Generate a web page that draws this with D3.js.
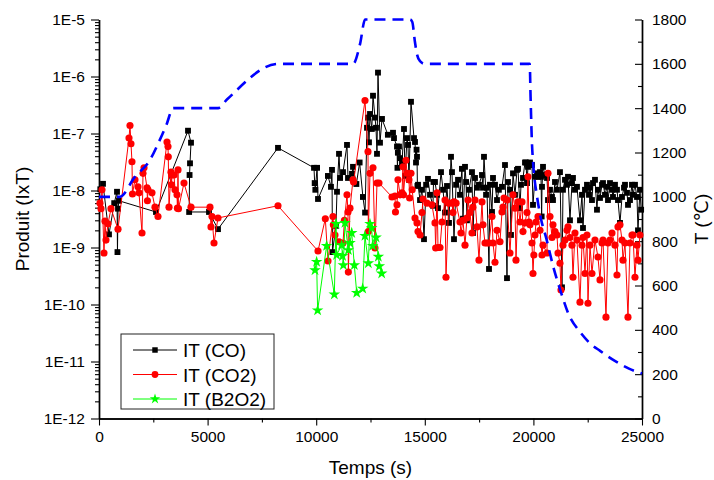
<!DOCTYPE html>
<html><head><meta charset="utf-8">
<script src="https://cdn.jsdelivr.net/npm/d3@7"></script>
<style>
body{margin:0;background:#fff}
svg{display:block}
text{font-family:"Liberation Sans",Arial,"DejaVu Sans",sans-serif;fill:#000}
</style>
</head><body>
<svg id="chart" width="714" height="480"></svg>
<script>
// ---------- DATA ----------
const coData = [
[60,1.05e-8],[184,1.31e-8],[460,1.7e-9],[700,6.0e-9],[829,9.5e-9],[850,8.3e-10],[875,4.8e-9],[921,6.6e-9],[2624,4.2e-9],[4098,1.12e-7],[4236,6.9e-8],[4190,3.0e-8],[4170,1.87e-8],[4150,4.2e-9],[5064,4.2e-9],[5479,2.1e-9],[8241,5.6e-8],
[9899,2.5e-8],[9930,1.35e-8],[9960,1.03e-8],[10040,2.5e-8],[10083,7.1e-9],[10540,1.8e-8],[10680,1.16e-8],[10727,2.3e-8],[10750,8.3e-10],[10910,2.4e-9],[10957,9.5e-9],[11050,4.4e-8],[11100,1.66e-8],[11234,2.1e-8],[11418,6.3e-8],[11464,1.66e-8],[11648,1.96e-8],[11694,2.6e-8],[11850,1.3e-8],[12000,3.1e-8],[12150,7.7e-9],[12250,4.1e-9],[12339,1.26e-7],[12385,1.9e-7],[12430,7.0e-8],[12477,2.2e-7],[12560,1.2e-7],[12615,4.6e-7],[12707,1.9e-7],[12753,1.26e-7],[12799,4.4e-8],[12845,1.17e-6],[12937,6.9e-8],[13029,1.8e-7],
[13300,9.5e-8],[13536,1.03e-7],[13582,8.3e-8],[13720,5.9e-8],[13740,2.5e-8],[13760,4.6e-8],[13812,5.9e-8],[13860,3.7e-8],[13950,3.1e-8],[14042,1.2e-7],[14090,1.8e-8],[14180,8.3e-8],[14226,6.3e-8],[14272,1.54e-8],[14364,3.6e-7],[14503,8.3e-8],[14549,7.1e-8],[14595,3.1e-8],[14620,5.2e-8],[14641,3.9e-8],[14660,1.2e-8],[14687,1.26e-8],[14780,6.8e-9],[14871,1.03e-8],[14963,1.4e-9],[15060,1.26e-8],[15147,1.6e-8],
[15240,8.4e-9],[15377,5.4e-9],[15400,1.41e-8],[15469,1.41e-8],[15562,8.4e-9],[15608,4.9e-9],[15746,2.1e-8],[15840,1.03e-8],[15930,4.1e-9],[16022,1.2e-8],[16114,2.7e-9],[16206,3.9e-8],[16252,2.1e-8],[16344,1.4e-9],[16440,1.26e-8],[16530,1.54e-8],[16620,8.4e-9],[16710,2.4e-8],[16758,3.2e-9],[16851,2.6e-8],[16900,1.41e-8],[16940,3.0e-9],[17035,1.03e-8],[17173,2.1e-8],[17219,1.8e-9],[17311,1.66e-8],[17403,1.12e-8],[17495,1.26e-8],[17633,1.87e-8],[17679,1.12e-8],[17725,3.9e-8],[17820,8.4e-9],[17860,1.12e-8],[17956,4.2e-10],[18000,1.26e-8],[18094,4.2e-9],[18140,1.66e-8],[18232,1.26e-8],[18324,6.8e-9],[18410,1.03e-8],[18554,1.16e-8],[18692,2.8e-8],[18784,2.9e-10],[18830,1.41e-8],[18922,1.03e-8],[18968,1.66e-9],[19061,2.0e-8],[19153,8.4e-9],[19245,2.3e-8],[19291,2.4e-8],[19380,4.9e-9],[19430,1.26e-8],[19521,1.66e-8],[19613,3.1e-8],[19659,3.1e-8],[19705,1.35e-8],[19751,2.6e-8],[19797,2.8e-8],[19843,3.1e-8],
[19935,2.8e-8],[19981,5.6e-9],[20073,1.74e-8],[20166,2.0e-8],[20212,1.74e-8],[20304,2.1e-8],[20350,1.74e-8],[20380,3.5e-9],[20396,1.16e-8],[20442,2.6e-8],[20534,1.87e-8],[20626,1.66e-8],[20672,6.8e-9],[20764,1.03e-8],[20856,7.7e-9],[20902,6.8e-9],[20994,1.41e-8],[21086,1.03e-8],[21224,2.1e-8],[21316,2.0e-10],[21362,1.03e-8],[21454,1.54e-8],[21546,1.26e-8],[21592,1.74e-8],[21684,3.0e-9],[21776,1.35e-8],[21822,1.66e-8],[21914,1.03e-8],[22006,1.16e-8],[22145,3.0e-9],[22237,8.4e-9],[22283,2.2e-9],[22375,1.03e-8],[22467,1.26e-8],[22559,8.4e-9],[22605,1.12e-8],[22697,6.8e-9],[22743,1.35e-8],[22835,1.54e-8],[22927,4.6e-9],[22973,1.03e-8],[23066,7.4e-9],[23158,1.26e-8],[23204,1.35e-8],[23296,8.4e-9],[23388,1.16e-8],[23434,6.8e-9],[23526,1.35e-8],[23618,1.03e-8],[23664,7.7e-9],[23756,1.26e-8],[23848,1.03e-8],[23894,6.8e-9],[23987,2.7e-9],[24079,7.7e-9],[24171,1.12e-8],[24217,1.26e-8],[24309,9.1e-9],[24355,5.6e-9],[24447,6.8e-9],[24539,1.26e-8],[24585,8.4e-9],[24677,1.26e-8],[24769,7.7e-9],[24815,2.0e-9],[24907,1.03e-8],[24960,4.6e-9]
];

const co2Data = [
[46,6.0e-9],[92,4.8e-9],[138,1.03e-8],[230,8.0e-10],[276,2.9e-9],[322,1.35e-9],[414,2.6e-9],[552,4.8e-9],[875,2.1e-9],[1381,8.3e-8],[1427,1.38e-7],[1473,6.6e-8],[1519,3.2e-8],[1540,8.7e-9],[1657,1.54e-8],[1796,1.16e-8],[1842,9.1e-9],[1980,1.8e-9],[2026,2.0e-8],[2072,2.5e-8],[2210,1.12e-8],[2230,6.6e-9],[2256,1.03e-8],[2440,9.1e-9],[2578,5.1e-9],[2716,3.5e-9],[3131,7.1e-8],[3177,5.9e-8],[3190,3.9e-8],[3223,5.1e-9],[3315,2.1e-8],[3340,1.26e-8],[3361,1.87e-8],[3453,1.87e-8],[3499,1.03e-8],[3591,8.4e-9],[3610,4.9e-9],[3637,2.3e-8],[3660,4.8e-9],[3913,1.35e-8],[4236,5.1e-9],[5110,5.1e-9],[5156,2.3e-9],[5203,3.5e-9],[5295,1.2e-9],[5479,3.3e-9],[8241,5.4e-9],
[10083,8.7e-10],[10420,3.2e-9],[10543,5.8e-10],[10773,3.5e-9],[10790,2.5e-9],[10865,1.66e-9],[11050,1.26e-9],[11234,1.2e-9],[11300,3.0e-9],[11418,8.4e-9],[11464,4.2e-9],[11480,3.7e-10],[11556,4.9e-9],[11694,1.54e-8],[11720,1.41e-8],[12247,3.8e-7],[12385,4.8e-8],[12400,1.9e-9],[12477,2.0e-8],[12615,2.5e-8],[12707,9.8e-10],[12799,1.35e-8],[12891,1.35e-8],
[13490,7.7e-9],[13628,8.0e-9],[13650,4.2e-9],[13720,5.6e-9],[13766,1.54e-8],[13860,8.4e-9],[13950,9.1e-9],[13996,2.6e-8],[14020,8.4e-9],[14134,3.4e-8],[14180,2.0e-8],[14272,1.54e-8],[14300,7.4e-9],[14364,2.0e-8],[14420,1.03e-8],[14549,3.3e-9],[14641,2.7e-9],[14687,1.9e-9],[14780,1.66e-9],[14871,4.1e-9],[14917,7.1e-9],[15100,6.0e-9],[15330,5.6e-9],
[15469,2.7e-9],[15500,9.8e-10],[15562,9.1e-9],[15608,1.0e-9],[15700,1.0e-9],[15792,2.8e-9],[15930,6.8e-9],[15976,3.0e-10],[16100,6.0e-9],[16252,6.0e-9],[16298,4.1e-9],[16344,6.3e-9],[16440,6.0e-9],[16620,2.8e-9],[16666,1.8e-9],[16758,3.0e-9],[16851,1.1e-9],[16940,3.3e-9],[16989,6.8e-9],[17080,4.1e-9],[17173,1.8e-9],[17219,5.1e-9],[17311,6.8e-9],[17403,2.3e-9],[17495,6.0e-10],[17633,6.3e-9],[17679,2.5e-9],[17771,1.2e-9],[17863,1.2e-9],[17956,1.2e-9],[18094,3.5e-9],[18140,1.2e-9],[18232,5.5e-10],[18324,2.0e-9],[18462,1.26e-9],[18554,4.2e-9],[18600,5.1e-9],[18646,7.4e-9],[18784,6.8e-9],[18922,8.0e-10],[19061,8.4e-9],[19153,4.9e-9],[19199,6.0e-10],[19291,6.3e-9],[19383,2.8e-9],[19475,6.3e-9],[19521,1.9e-9],[19613,2.7e-9],[19705,4.1e-9],[19751,1.74e-8],[19797,2.8e-9],[19843,2.5e-9],[19935,1.2e-9],[19981,3.5e-10],[20020,7.4e-10],
[20073,1.66e-9],[20120,2.8e-9],[20212,3.5e-9],[20304,2.0e-9],[20396,7.4e-10],[20442,1.1e-9],[20626,8.0e-10],[20672,2.0e-8],[20764,3.5e-9],[20856,1.5e-9],[20902,2.5e-9],[20994,1.9e-9],[21086,1.66e-9],[21132,8.0e-10],[21224,5.3e-10],[21270,1.8e-10],[21362,1.1e-9],[21454,1.35e-9],[21546,2.0e-9],[21592,2.3e-9],[21684,1.5e-9],[21776,1.1e-9],[21822,3.0e-10],[21914,1.8e-9],[22006,1.35e-9],[22145,1.1e-10],[22237,1.1e-9],[22283,1.5e-9],[22375,3.5e-10],[22467,1.66e-9],[22513,1.05e-10],[22605,1.1e-9],[22697,3.5e-10],[22835,1.35e-9],[22973,6.8e-10],[23066,2.7e-10],[23158,1.2e-9],[23204,1.35e-9],[23342,6.0e-11],[23434,1.2e-9],[23526,1.35e-9],[23618,1.8e-9],[23756,1.1e-9],[23848,3.3e-10],[23894,2.3e-9],[23987,2.5e-9],[24079,1.35e-9],[24125,6.0e-10],[24217,1.2e-9],[24355,6.0e-11],[24447,1.2e-9],[24539,1.66e-9],[24585,1.66e-9],[24677,3.0e-10],[24769,1.1e-9],[24815,6.0e-10],[24907,1.66e-9]
];

const b2o2Data = [
[9945,4.0e-10],[10020,5.6e-10],[10065,7.9e-11],[10480,1.07e-9],[10835,1.5e-10],[10912,2.6e-9],[10940,7.4e-10],[11170,1.1e-9],[11215,7.1e-10],[11250,4.9e-10],[11325,2.7e-9],[11480,9.0e-10],[11555,1.2e-9],[11635,1.8e-9],[11755,4.9e-10],[11865,1.6e-10],[12140,1.9e-10],[12245,1.6e-9],[12400,5.3e-10],[12475,2.6e-9],[12555,2.2e-9],[12600,1.07e-9],[12755,1.5e-9],[12860,6.9e-10],[12905,4.7e-10],[13015,3.5e-10]
];

const tempTime  = [0,950,1650,2350,2800,3100,3420,5480,5900,8250,11700,12020,12250,14320,14420,14550,14640,14780,15000,19830,19870,19930,19990,20170,20350,20600,20900,21300,21600,22150,22600,23070,23750,24400,25000];
const tempValue = [1000,1000,1090,1167,1257,1324,1400,1400,1440,1600,1600,1690,1800,1800,1790,1696,1643,1612,1600,1600,1450,1250,1150,1000,900,810,690,560,475,390,340,305,260,225,203];

const xTickValues = [0,5000,10000,15000,20000,25000];
const xMinorValues = [2500,7500,12500,17500,22500];
const yLeftTickValues = [1e-12,1e-11,1e-10,1e-9,1e-8,1e-7,1e-6,1e-5];
const yLeftTickLabels = ["1E-12","1E-11","1E-10","1E-9","1E-8","1E-7","1E-6","1E-5"];
const yRightTickValues = [0,200,400,600,800,1000,1200,1400,1600,1800];
const yRightMinorValues = [100,300,500,700,900,1100,1300,1500,1700];

const seriesNames = ["IT (CO)","IT (CO2)","IT (B2O2)"];
const seriesColors = ["#000000","#ff0000","#00ff00"];

// ---------- LAYOUT ----------
const L = 99, R = 642, T = 19.5, B = 418.5;
const svg = d3.select("#chart");

const x = d3.scaleLinear().domain([0,25000]).range([L,R]);
const y = d3.scaleLog().domain([1e-12,1e-5]).range([B,T]);
const yR = d3.scaleLinear().domain([0,1800]).range([B,T]);

// minor log ticks
const yLeftMinor = [];
yLeftTickValues.slice(0,-1).forEach(d => { for (let k=2;k<=9;k++) yLeftMinor.push(d*k); });

// ---------- AXES ----------
function styleAxis(g, fs){
  g.select(".domain").attr("stroke","#000").attr("stroke-width",1.4);
  g.selectAll(".tick line").attr("stroke","#000").attr("stroke-width",1.1);
  g.selectAll(".tick text").style("font-size",fs+"px").attr("fill","#000");
}

// bottom
svg.append("g").attr("transform",`translate(0,${B})`)
  .call(d3.axisBottom(x).tickValues(xMinorValues).tickFormat("").tickSize(4).tickSizeOuter(0))
  .call(g=>styleAxis(g,15));
svg.append("g").attr("transform",`translate(0,${B})`)
  .call(d3.axisBottom(x).tickValues(xTickValues).tickFormat(d3.format("d")).tickSize(7).tickPadding(5).tickSizeOuter(0))
  .call(g=>styleAxis(g,15.5));

// left
svg.append("g").attr("transform",`translate(${L},0)`)
  .call(d3.axisLeft(y).tickValues(yLeftMinor).tickFormat("").tickSize(4).tickSizeOuter(0))
  .call(g=>styleAxis(g,15));
svg.append("g").attr("transform",`translate(${L},0)`)
  .call(d3.axisLeft(y).tickValues(yLeftTickValues).tickFormat((d,i)=>yLeftTickLabels[i]).tickSize(8).tickPadding(6).tickSizeOuter(0))
  .call(g=>styleAxis(g,15.5));

// right (ticks inward)
svg.append("g").attr("transform",`translate(${R},0)`)
  .call(d3.axisRight(yR).tickValues(yRightMinorValues).tickFormat("").tickSize(-4).tickSizeOuter(0))
  .call(g=>styleAxis(g,15));
svg.append("g").attr("transform",`translate(${R},0)`)
  .call(d3.axisRight(yR).tickValues(yRightTickValues).tickFormat(d3.format("d")).tickSize(-7).tickPadding(10).tickSizeOuter(0))
  .call(g=>styleAxis(g,15.5));

// axis titles
svg.append("text").attr("x",(L+R)/2).attr("y",474).attr("text-anchor","middle")
  .style("font-size","19px").text("Temps (s)");
svg.append("text").attr("transform",`translate(29,${(T+B)/2}) rotate(-90)`).attr("text-anchor","middle")
  .style("font-size","19px").text("Produit (IxT)");
svg.append("text").attr("transform",`translate(708,${(T+B)/2}) rotate(-90)`).attr("text-anchor","middle")
  .style("font-size","19px").text("T (\u2103)");

// ---------- SERIES ----------
const lineGen = d3.line().x(d=>x(d[0])).y(d=>y(d[1]));
const plot = svg.append("g");

function drawSeries(data, color, symbol, size){
  plot.append("path").datum(data).attr("d",lineGen)
    .attr("fill","none").attr("stroke",color).attr("stroke-width",1);
  plot.append("g").selectAll("path").data(data).join("path")
    .attr("transform",d=>`translate(${x(d[0])},${y(d[1])})`)
    .attr("d",d3.symbol().type(symbol).size(size))
    .attr("fill",color);
}
drawSeries(coData, seriesColors[0], d3.symbolSquare, 34);
drawSeries(co2Data, seriesColors[1], d3.symbolCircle, 40);
drawSeries(b2o2Data, seriesColors[2], d3.symbolStar, 42);

// temperature
const tempPts = tempTime.map((t,i)=>[t,tempValue[i]]);
plot.append("path").datum(tempPts)
  .attr("d", d3.line().x(d=>x(d[0])).y(d=>yR(d[1])).curve(d3.curveMonotoneX))
  .attr("fill","none").attr("stroke","#0000ff").attr("stroke-width",2.6)
  .attr("stroke-dasharray","11,7");

// ---------- LEGEND ----------
const lg = svg.append("g");
lg.append("rect").attr("x",121).attr("y",334).attr("width",153).attr("height",75)
  .attr("fill","#fff").attr("stroke","#222").attr("stroke-width",1);
const symbols = [d3.symbolSquare, d3.symbolCircle, d3.symbolStar];
const symSizes = [30,36,34];
seriesNames.forEach((name,i)=>{
  const yy = 350 + i*24.5;
  lg.append("line").attr("x1",133).attr("x2",177).attr("y1",yy).attr("y2",yy)
    .attr("stroke",seriesColors[i]).attr("stroke-width",1);
  lg.append("path").attr("transform",`translate(155,${yy})`)
    .attr("d",d3.symbol().type(symbols[i]).size(symSizes[i])).attr("fill",seriesColors[i]);
  lg.append("text").attr("x",183).attr("y",yy+7).style("font-size","19px").text(name);
});
</script>
</body></html>
